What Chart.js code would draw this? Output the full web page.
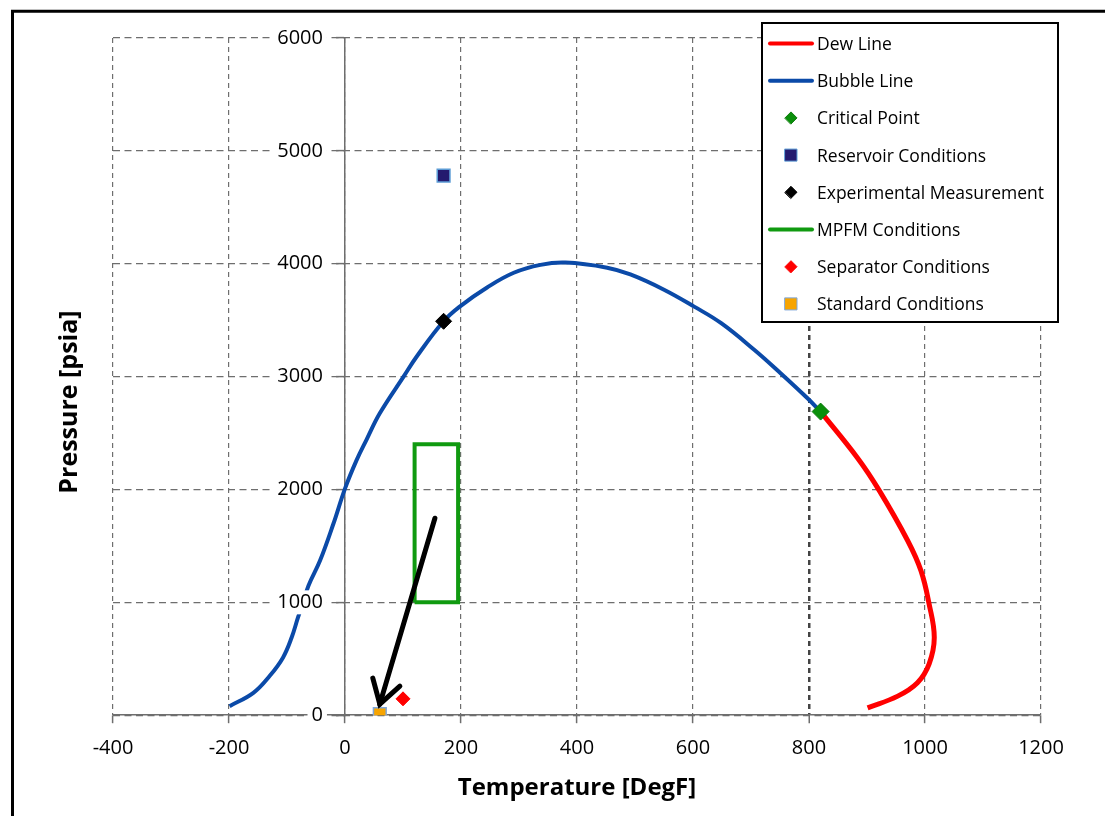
<!DOCTYPE html>
<html>
<head>
<meta charset="utf-8">
<script src="https://cdn.jsdelivr.net/npm/chart.js@4.4.0/dist/chart.umd.min.js"></script>
<style>
    body { margin: 0; background: #fff; }
    #quadro { width: 1105px; height: 816px; }
</style>
</head>
<body>
<div id="quadro"><canvas id="graficoEnvelope" width="1105" height="816"></canvas></div>
<script>
// curva de bolha (azul)
const bolhaT = [-199, -158, -130, -107, -92, -81, -72, -63, -43, -20, 0, 20, 37, 60, 101, 124, 170, 199, 245, 291, 337, 380, 452, 492, 550, 602, 648, 705, 751, 797, 820];
const bolhaP = [80, 198, 347, 510, 688, 866, 1000, 1147, 1370, 1696, 2008, 2260, 2440, 2675, 3000, 3180, 3490, 3625, 3790, 3920, 3990, 4010, 3965, 3905, 3770, 3620, 3475, 3240, 3030, 2810, 2690];

// curva de orvalho (vermelha)
const orvalhoT = [820, 884, 921, 970, 993, 1007, 1016, 1007, 987, 953, 901];
const orvalhoP = [2690, 2277, 1992, 1548, 1281, 987, 688, 453, 288, 169, 65];

// pontos isolados [T, P]
const pontoCritico = [820, 2690];
const reservatorio = [170, 4780];
const experimental = [170, 3490];
const separador = [100, 145];
const padrao = [60, 10];

// retangulo das condicoes do MPFM
const mpfmT = [120, 120, 195, 195, 120];
const mpfmP = [1000, 2400, 2400, 1000, 1000];

// seta (inicio -> ponta)
const setaT = [155, 60];
const setaP = [1745, 98];

// eixos
const eixoX = { min: -400, max: 1200, passo: 200 };
const eixoY = { min: 0, max: 6000, passo: 1000 };

function pares(ts, ps) {
    return ts.map((t, i) => ({ x: t, y: ps[i] }));
}

const fonte = '"Open Sans", Lato, sans-serif';

// moldura preta e fundo branco
const moldura = {
    id: 'moldura',
    beforeDraw(chart) {
        const ctx = chart.ctx;
        ctx.save();
        ctx.fillStyle = '#fff';
        ctx.fillRect(0, 0, chart.width, chart.height);
        ctx.strokeStyle = '#000';
        ctx.lineWidth = 3;
        ctx.beginPath();
        ctx.moveTo(12.5, chart.height);
        ctx.lineTo(12.5, 11.3);
        ctx.lineTo(chart.width, 11.3);
        ctx.stroke();
        ctx.restore();
    }
};

// ponta da seta
const pontaSeta = {
    id: 'pontaSeta',
    afterDatasetsDraw(chart) {
        const idx = chart.data.datasets.findIndex(d => d.seta);
        const pts = chart.getDatasetMeta(idx).data;
        const a = pts[0], b = pts[1];
        const ang = Math.atan2(b.y - a.y, b.x - a.x);
        const len = 27, abre = 0.55;
        const ctx = chart.ctx;
        ctx.save();
        ctx.strokeStyle = '#000';
        ctx.lineWidth = 5;
        ctx.lineCap = 'round';
        ctx.lineJoin = 'miter';
        ctx.beginPath();
        ctx.moveTo(b.x - len * Math.cos(ang - abre), b.y - len * Math.sin(ang - abre));
        ctx.lineTo(b.x, b.y);
        ctx.lineTo(b.x - len * Math.cos(ang + abre), b.y - len * Math.sin(ang + abre));
        ctx.stroke();
        ctx.restore();
    }
};

// legenda desenhada a mao + titulo do eixo Y
const legendaPropria = {
    id: 'legendaPropria',
    afterDraw(chart) {
        const ctx = chart.ctx;
        const caixa = { x: 762, y: 23, w: 296, h: 299 };
        ctx.save();
        ctx.fillStyle = '#fff';
        ctx.fillRect(caixa.x, caixa.y, caixa.w, caixa.h);
        ctx.strokeStyle = '#000';
        ctx.lineWidth = 2;
        ctx.strokeRect(caixa.x, caixa.y, caixa.w, caixa.h);

        const itens = chart.data.datasets.filter(d => d.label);
        ctx.font = '17.5px ' + fonte;
        ctx.textBaseline = 'middle';
        ctx.textAlign = 'left';
        itens.forEach((d, i) => {
            const y = 43.5 + i * 37.2;
            if (d.showLine) {
                ctx.strokeStyle = d.borderColor;
                ctx.lineWidth = 4;
                ctx.lineCap = 'round';
                ctx.beginPath();
                ctx.moveTo(770, y);
                ctx.lineTo(812, y);
                ctx.stroke();
            } else {
                ctx.fillStyle = d.backgroundColor;
                ctx.strokeStyle = d.borderColor;
                ctx.lineWidth = 1;
                const r = d.pointStyle === 'rect' ? 8.5 : 6;
                Chart.helpers.drawPoint(ctx, { pointStyle: d.pointStyle, radius: r, borderWidth: 1, rotation: 0 }, 791, y);
            }
            ctx.fillStyle = '#000';
            ctx.fillText(d.label, 817, y + 1.5);
        });

        // titulo Y
        ctx.translate(70, 402);
        ctx.rotate(-Math.PI / 2);
        ctx.font = 'bold 25px ' + fonte;
        ctx.textAlign = 'center';
        ctx.textBaseline = 'middle';
        ctx.fillStyle = '#000';
        ctx.fillText('Pressure [psia]', 0, 0);
        ctx.restore();
    }
};

const semMilhar = v => String(v);

const config = {
    type: 'scatter',
    data: {
        datasets: [
            {
                label: 'Dew Line', data: pares(orvalhoT, orvalhoP), showLine: true,
                borderColor: '#ff0000', backgroundColor: '#ff0000', borderWidth: 5,
                pointRadius: 0, tension: 0.4, order: 6
            },
            {
                label: 'Bubble Line', data: pares(bolhaT, bolhaP), showLine: true,
                borderColor: '#0b4aa8', backgroundColor: '#0b4aa8', borderWidth: 4,
                pointRadius: 0, tension: 0.4, order: 6
            },
            {
                label: 'Critical Point', data: [{ x: pontoCritico[0], y: pontoCritico[1] }],
                pointStyle: 'rectRot', pointRadius: 8.5, backgroundColor: '#0a8f0a', borderColor: '#0a7a0a',
                borderWidth: 1, order: 0
            },
            {
                label: 'Reservoir Conditions', data: [{ x: reservatorio[0], y: reservatorio[1] }],
                pointStyle: 'rect', pointRadius: 9, backgroundColor: '#241a6e', borderColor: '#5b9bd5',
                borderWidth: 1.5, order: 0
            },
            {
                label: 'Experimental Measurement', data: [{ x: experimental[0], y: experimental[1] }],
                pointStyle: 'rectRot', pointRadius: 8, backgroundColor: '#000', borderColor: '#000',
                borderWidth: 1, order: 0
            },
            {
                label: 'MPFM Conditions', data: pares(mpfmT, mpfmP), showLine: true,
                borderColor: '#109a10', backgroundColor: '#109a10', borderWidth: 4,
                pointRadius: 0, tension: 0, order: 4
            },
            {
                label: 'Separator Conditions', data: [{ x: separador[0], y: separador[1] }],
                pointStyle: 'rectRot', pointRadius: 7, backgroundColor: '#ff0000', borderColor: '#ff0000',
                borderWidth: 1, order: 0
            },
            {
                label: 'Standard Conditions', data: [{ x: padrao[0], y: padrao[1] }],
                pointStyle: 'rect', pointRadius: 9, backgroundColor: '#f7a400', borderColor: '#7fa7d9',
                borderWidth: 1.5, order: 0
            },
            {
                label: '', seta: true, data: pares(setaT, setaP), showLine: true,
                borderColor: '#000', backgroundColor: '#000', borderWidth: 5,
                pointRadius: 0, borderCapStyle: 'round', order: 2
            }
        ]
    },
    options: {
        responsive: false,
        animation: false,
        layout: { padding: { left: 113, top: 38, right: 64, bottom: 13 } },
        plugins: {
            legend: { display: false },
            tooltip: { enabled: false }
        },
        scales: {
            y: {
                type: 'linear', position: { x: 0 },
                min: eixoY.min, max: eixoY.max,
                ticks: { stepSize: eixoY.passo, display: false },
                grid: { color: '#6e6e6e', lineWidth: 1.2, tickLength: 8, tickColor: '#6e6e6e', tickWidth: 1.5 },
                border: { display: true, color: '#6e6e6e', width: 1.5, dash: [7, 4.5] }
            },
            x: {
                type: 'linear', position: 'bottom',
                min: eixoX.min, max: eixoX.max,
                ticks: { stepSize: eixoX.passo, color: '#000', font: { family: fonte, size: 20 }, padding: 13, maxRotation: 0, callback: semMilhar },
                grid: {
                    color: c => c.tick && c.tick.value === 800 ? '#444' : '#6e6e6e',
                    lineWidth: c => c.tick && c.tick.value === 800 ? 2.5 : 1.2,
                    tickLength: 8, tickColor: '#6e6e6e', tickWidth: 1.5
                },
                border: { display: true, color: '#6e6e6e', width: 1.5, dash: [5, 4] },
                title: {
                    display: true, text: 'Temperature [DegF]', color: '#000',
                    font: { family: fonte, size: 24, weight: 'bold' }, padding: { top: 1, bottom: 0 }
                }
            },
            // rotulos do eixo Y, deslocados um pouco a esquerda da linha x = 0
            yRotulos: {
                type: 'linear', position: { x: -38 },
                min: eixoY.min, max: eixoY.max,
                grid: { display: false },
                border: { display: false },
                ticks: {
                    stepSize: eixoY.passo, color: '#000', font: { family: fonte, size: 20 }, z: 1, callback: semMilhar,
                    showLabelBackdrop: true, backdropColor: '#fff', backdropPadding: { top: 0, bottom: 0, left: 4, right: 4 }
                }
            }
        }
    },
    plugins: [moldura, pontaSeta, legendaPropria]
};

new Chart(document.getElementById('graficoEnvelope'), config);
</script>
</body>
</html>
